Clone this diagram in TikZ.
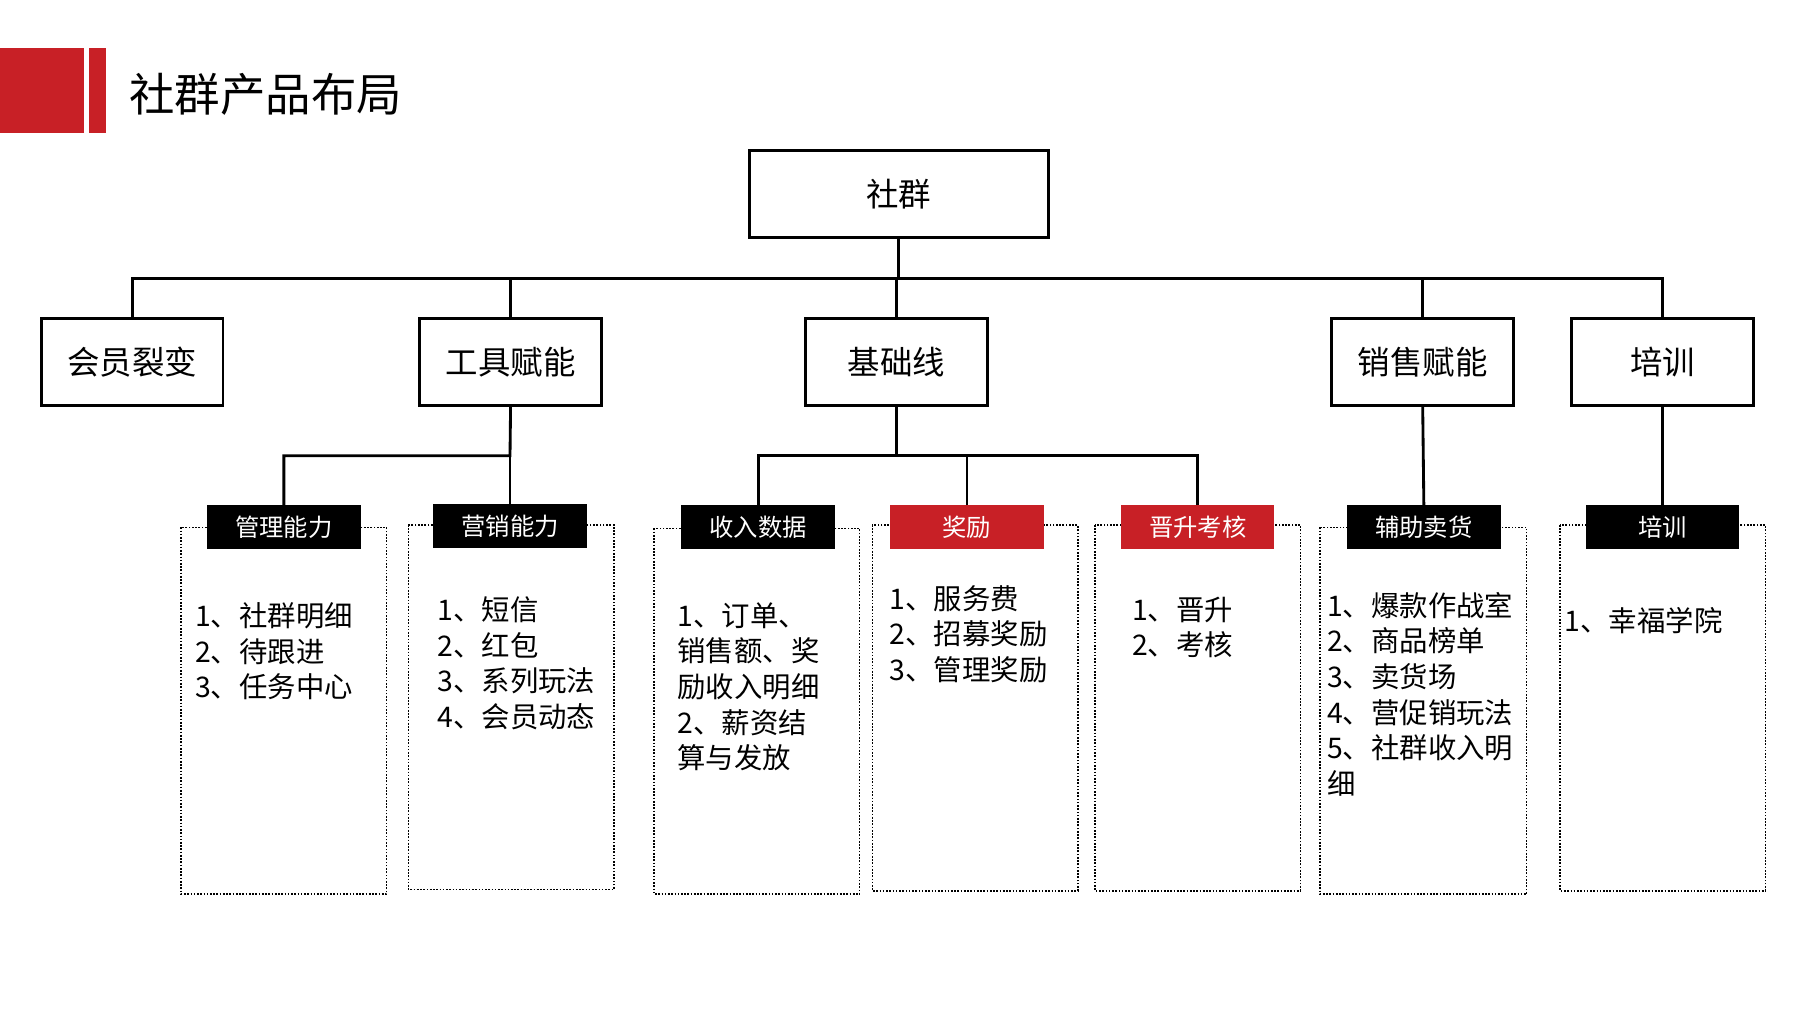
\documentclass[tikz,border=0pt]{standalone}
\usepackage{fontspec}
\setmainfont{Noto Sans CJK SC}
\begin{document}
\begin{tikzpicture}[x=0.05cm,y=-0.05cm,
 box/.style={draw,line width=3.5pt,minimum width=8cm-3.5pt,minimum height=3.9cm-3.5pt,font=\fontsize{40}{44}\selectfont,inner sep=0},
 tab/.style={fill=black,text=white,minimum width=6.65cm,minimum height=1.9cm,font=\fontsize{30}{34}\selectfont,inner sep=0},
 rtab/.style={tab,fill=myred},
 dbox/.style={draw,dotted,line width=2pt},
 lst/.style={anchor=north west,align=left,inner sep=0,font=\fontsize{35}{44}\selectfont},
 ln/.style={line width=3.5pt}]
\definecolor{myred}{RGB}{200,32,38}
\useasboundingbox (0,0) rectangle (1560,878);
\fill[myred] (0,42) rectangle (73,115);
\fill[myred] (77,42) rectangle (92,115);
\node[anchor=west,font=\fontsize{56}{60}\selectfont,inner sep=0] (title) at (112,82) {社群产品布局};
\node[box,minimum width=13.1cm-3.5pt] (root) at (779,168) {社群};
\node[box] (a) at (114.5,313.5) {会员裂变};
\node[box] (b) at (442.5,313.5) {工具赋能};
\node[box] (c) at (777,313.5) {基础线};
\node[box] (d) at (1233,313.5) {销售赋能};
\node[box] (e) at (1441,313.5) {培训};
\coordinate (h) at (779,241);
\draw[ln] (root.south) -- (h);
\draw[ln] (a.north) |- (h) -| (e.north);
\draw[ln] (b.north) |- (h); \draw[ln] (c.north) -- (c.north|-h); \draw[ln] (d.north) -- (d.north|-h);
% dotted boxes
\draw[dbox] (157,457) rectangle (335,775);
\draw[dbox] (354,455) rectangle (532,771);
\draw[dbox] (567,458) rectangle (745,775);
\draw[dbox] (756,455) rectangle (934,772);
\draw[dbox] (949,455) rectangle (1127,772);
\draw[dbox] (1144,457) rectangle (1323,775);
\draw[dbox] (1352,455) rectangle (1530,772);
\node[tab] (t1) at (246,457) {管理能力};
\node[tab] (t2) at (442,456) {营销能力};
\node[tab] (t3) at (657,457) {收入数据};
\node[rtab] (t4) at (838,457) {奖励};
\node[rtab] (t5) at (1038,457) {晋升考核};
\node[tab] (t6) at (1234,457) {辅助卖货};
\node[tab] (t7) at (1441,457) {培训};
\draw[ln] (b.south) -- (442,395) -| (t1.north);
\draw[ln] (442,395) -- (t2.north);
\draw[ln] (c.south) -- (777,395) -| (t3.north);
\draw[ln] (777,395) -| (t5.north);
\draw[ln] (t4.north) -- (t4.north|-395,395);
\draw[ln] (d.south) -- (t6.north);
\draw[ln] (e.south) -- (t7.north);
\node[lst] (l1) at (169,522) {1、社群明细\\2、待跟进\\3、任务中心};
\node[lst] (l2) at (379,517) {1、短信\\2、红包\\3、系列玩法\\4、会员动态};
\node[lst] (l3) at (587,522) {1、订单、\\销售额、奖\\励收入明细\\2、薪资结\\算与发放};
\node[lst] (l4) at (771,507) {1、服务费\\2、招募奖励\\3、管理奖励};
\node[lst] (l5) at (981,517) {1、晋升\\2、考核};
\node[lst] (l6) at (1150,513) {1、爆款作战室\\2、商品榜单\\3、卖货场\\4、营促销玩法\\5、社群收入明\\细};
\node[lst] (l7) at (1356,526) {1、幸福学院};
\end{tikzpicture}
\end{document}
